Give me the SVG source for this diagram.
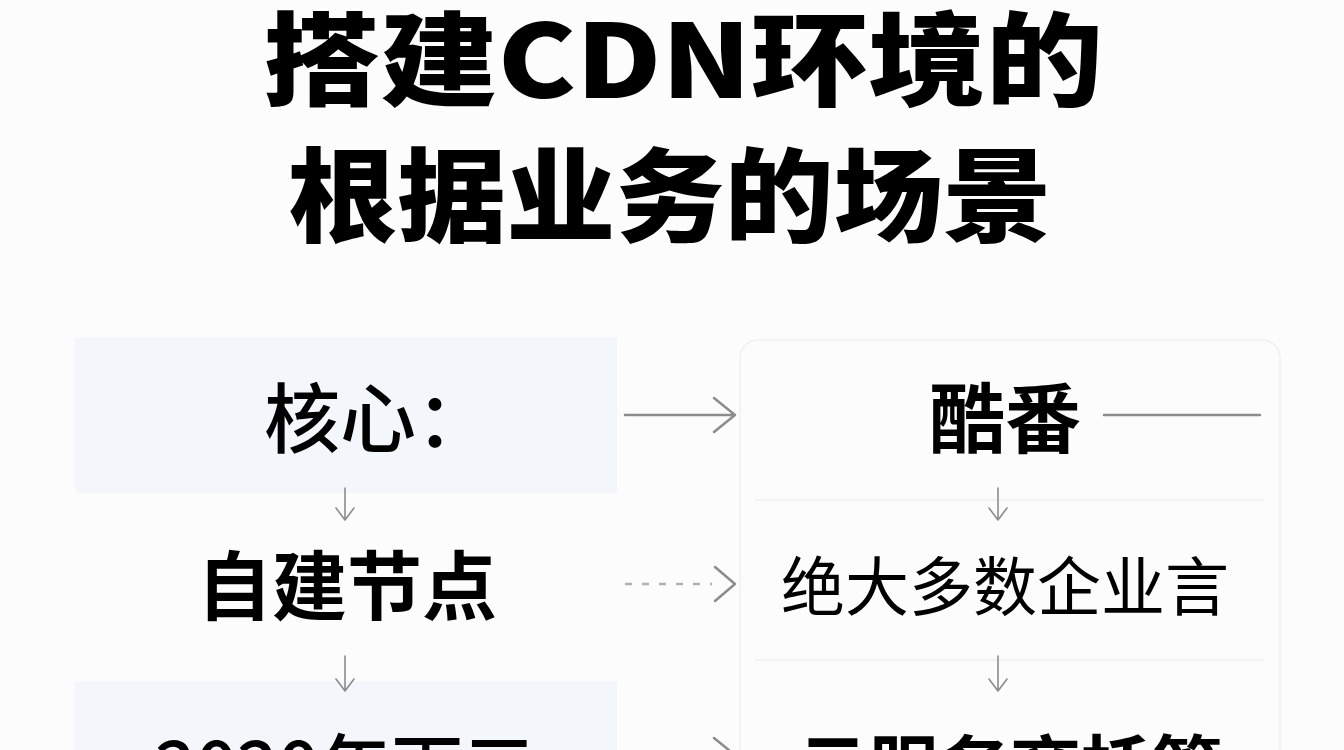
<svg xmlns="http://www.w3.org/2000/svg" width="1344" height="750" viewBox="0 0 1344 750">
<defs>
<style>
.t{font-family:"Noto Sans CJK SC","Noto Sans",sans-serif;fill:#000;}
.title{font-size:102px;font-weight:900;}
.ln{stroke:#8c8c8c;stroke-width:2.5;fill:none;stroke-linecap:round;stroke-linejoin:round;}
.dn{stroke:#8c8c8c;stroke-width:1.6;fill:none;stroke-linecap:round;stroke-linejoin:round;}
.dash{stroke:#b0b0b0;stroke-width:2.5;fill:none;stroke-dasharray:7 10;}
.box{fill:#f3f6fa;}
.faint{fill:none;stroke:#f0f0f0;stroke-width:1.5;}
</style>
</defs>
<rect x="0" y="0" width="1344" height="750" fill="#fcfcfc"/>
<g id="title">
<text class="t title" x="263" y="98" textLength="840" lengthAdjust="spacingAndGlyphs">搭建CDN环境的</text>
<text class="t title" x="288" y="234" textLength="764" lengthAdjust="spacingAndGlyphs">根据业务的场景</text>
</g>
<g id="right-panel">
<rect class="faint" x="740" y="340" width="540" height="430" rx="18"/>
<line class="faint" x1="755" y1="500" x2="1265" y2="500"/>
<line class="faint" x1="755" y1="660" x2="1265" y2="660"/>
</g>
<g id="node-core">
<rect class="box" x="75" y="337" width="542" height="156" rx="4"/>
<text class="t" x="264" y="447" font-size="76" font-weight="500">核心：</text>
</g>
<g id="node-kufan">
<text class="t" x="1005" y="447" font-size="76" font-weight="700" text-anchor="middle">酷番</text>
</g>
<g id="node-selfbuilt">
<text class="t" x="347" y="614" font-size="75" font-weight="700" text-anchor="middle">自建节点</text>
</g>
<g id="node-enterprise">
<text class="t" x="1005" y="610" font-size="64" font-weight="400" text-anchor="middle">绝大多数企业言</text>
</g>
<g id="node-2020">
<rect class="box" x="75" y="681" width="542" height="80" rx="4"/>
<text class="t" x="155" y="794" font-size="72" font-weight="500">2020年下三</text>
</g>
<g id="node-cloud">
<text class="t" x="1010" y="794" font-size="71" font-weight="700" text-anchor="middle">云服务商托管</text>
</g>
<g id="connectors">
<path class="ln" d="M625 415 H735 M714 398 L735 415 L714 432"/>
<path class="ln" d="M1104 415 H1260"/>
<path class="dash" d="M625 584 H712"/>
<path class="ln" d="M715 567 L735 584 L715 601" stroke="#a0a0a0"/>
<path class="ln" d="M625 755 H735 M714 738 L735 755 L714 772"/>
<path class="dn" d="M345 488 V520 M336 508 L345 520 L354 508"/>
<path class="dn" d="M998 488 V520 M989 508 L998 520 L1007 508"/>
<path class="dn" d="M345 656 V691 M336 679 L345 691 L354 679"/>
<path class="dn" d="M998 656 V691 M989 679 L998 691 L1007 679"/>
</g>
</svg>
